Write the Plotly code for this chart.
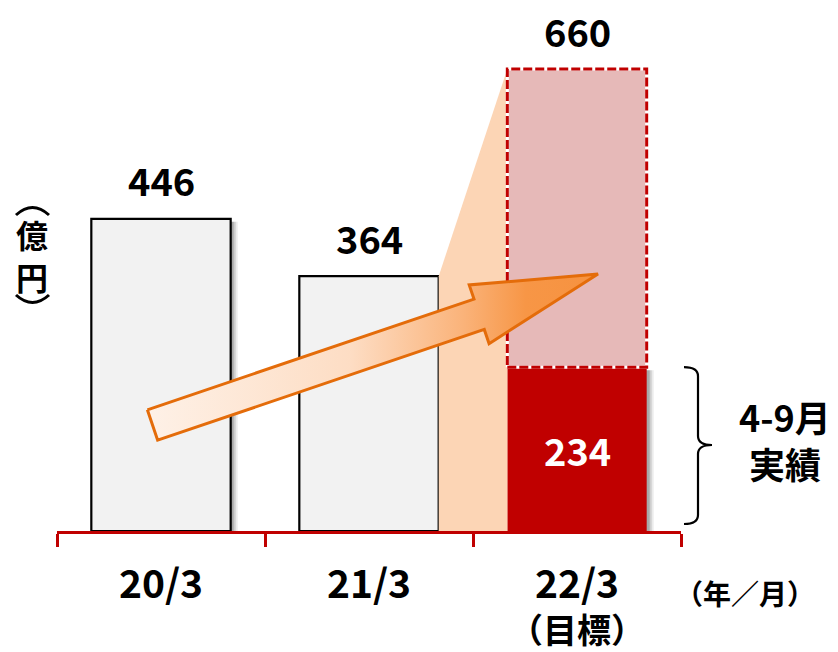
import plotly.graph_objects as go

# ---------------- data ----------------
categories = ["20/3", "21/3", "22/3"]
values = [446, 364, 660]          # 億円 (22/3 = 目標)
actual_first_half = 234            # 22/3 4-9月実績
value_labels = ["446", "364", "660"]
actual_label = "234"
target_note = "（目標）"
unit_x = "（年／月）"
unit_y = "億<br>円"
bracket_note = "4-9月<br>実績"

# ---------------- layout geometry ----------------
OFF = 8                      # default page body margin
PAGE_W, PAGE_H = 838, 652
W, H = PAGE_W - OFF, PAGE_H - OFF
PLOT_L, PLOT_T = 57, 13      # plot area position on the page
PW, PH = 624, 518
ML, MT = PLOT_L - OFF, PLOT_T - OFF
MR, MB = W - ML - PW, H - MT - PH
XR = (-0.5, 2.5)
YR = (0, 740)
BAR_W = 0.67

FONT = "Noto Sans CJK JP"
RED = "#C00000"
PINK = "#E6B9B8"
PEACH = "#FCD5B5"
GREY = "#F2F2F2"


def px_x(px):
    return XR[0] + (px - PLOT_L) / PW * (XR[1] - XR[0])


def px_y(py):
    return YR[0] + (PLOT_T + PH - py) / PH * (YR[1] - YR[0])


def dx(p):  # pixel width -> x units
    return p / PW * (XR[1] - XR[0])


def dy(p):  # pixel height -> y units
    return p / PH * (YR[1] - YR[0])


def paper_x(px):
    return (px - PLOT_L) / PW


def paper_y(py):
    return (PLOT_T + PH - py) / PH


idx = list(range(len(categories)))
solid_vals = [values[0], values[1], actual_first_half]
target_rest = values[2] - actual_first_half

fig = go.Figure()

# peach wedge from 21/3 bar top to 22/3 target top
wx = [1 + BAR_W / 2, 2 - BAR_W / 2, 2 - BAR_W / 2, 1 + BAR_W / 2]
wy = [values[1], values[2], 0, 0]
fig.add_trace(go.Scatter(x=wx, y=wy, fill="toself", fillcolor=PEACH,
                         mode="lines", line=dict(width=0), hoverinfo="skip",
                         showlegend=False))

# soft shadows at the right of the solid bars
for off, alpha in [(7, 0.08), (5, 0.12), (3, 0.18)]:
    fig.add_trace(go.Bar(x=idx, y=[v - dy(3) for v in solid_vals],
                         width=BAR_W, offset=-BAR_W / 2 + dx(off),
                         marker=dict(color=f"rgba(0,0,0,{alpha})", line=dict(width=0)),
                         hoverinfo="skip", showlegend=False))

# actual bars (20/3, 21/3)
fig.add_trace(go.Bar(x=idx[:2], y=values[:2], width=BAR_W,
                     marker=dict(color=GREY, line=dict(color="black", width=2.2)),
                     hoverinfo="skip", showlegend=False))
# 22/3 first half actual
fig.add_trace(go.Bar(x=[2], y=[actual_first_half], width=BAR_W,
                     marker=dict(color=RED, line=dict(width=0)),
                     hoverinfo="skip", showlegend=False))
# 22/3 remaining target
fig.add_trace(go.Bar(x=[2], y=[target_rest], base=[actual_first_half], width=BAR_W,
                     marker=dict(color=PINK, line=dict(width=0)),
                     hoverinfo="skip", showlegend=False))

# dashed border of the target part
rx = [2 - BAR_W / 2, 2 + BAR_W / 2, 2 + BAR_W / 2, 2 - BAR_W / 2, 2 - BAR_W / 2]
ry = [actual_first_half, actual_first_half, values[2], values[2], actual_first_half]
fig.add_trace(go.Scatter(x=rx, y=ry, mode="lines", line=dict(color="white", width=3),
                         hoverinfo="skip", showlegend=False))
fig.add_trace(go.Scatter(x=rx, y=ry, mode="lines",
                         line=dict(color=RED, width=3, dash="9px,3px"),
                         hoverinfo="skip", showlegend=False))

# growth arrow (block arrow), geometry in page pixels then mapped to data
tail = (152.5, 425.0)
tip = (598.0, 274.0)
shaft_hw, head_hw, head_len = 16.0, 31.0, 125.5
ux, uy = tip[0] - tail[0], tip[1] - tail[1]
L = (ux ** 2 + uy ** 2) ** 0.5
ux, uy = ux / L, uy / L
nx, ny = uy, -ux
base = (tip[0] - ux * head_len, tip[1] - uy * head_len)
pts = [
    (tail[0] + nx * shaft_hw, tail[1] + ny * shaft_hw),
    (base[0] + nx * shaft_hw, base[1] + ny * shaft_hw),
    (base[0] + nx * head_hw, base[1] + ny * head_hw),
    tip,
    (base[0] - nx * head_hw, base[1] - ny * head_hw),
    (base[0] - nx * shaft_hw, base[1] - ny * shaft_hw),
    (tail[0] - nx * shaft_hw, tail[1] - ny * shaft_hw),
]
pts.append(pts[0])
ax = [px_x(p[0]) for p in pts]
ay = [px_y(p[1]) for p in pts]
fig.add_trace(go.Scatter(
    x=ax, y=ay, mode="lines", fill="toself",
    fillgradient=dict(type="horizontal",
                      colorscale=[[0, "#FEF1E7"], [0.45, "#FDDDC4"], [0.7, "#FAB37A"],
                                  [0.84, "#F79646"], [1, "#F69240"]]),
    line=dict(color="#E46C0A", width=3), hoverinfo="skip", showlegend=False))

# invisible trace that carries the red baseline axis (x2)
fig.add_trace(go.Scatter(x=[XR[0], XR[1]], y=[0, 0], xaxis="x2", mode="lines",
                         line=dict(width=0), hoverinfo="skip", showlegend=False))

# ---------------- annotations ----------------
def bold(size, color="black"):
    return dict(family=FONT, size=size, color=color, weight="bold")


ann = []
for i, (v, t) in enumerate(zip(values, value_labels)):
    ann.append(dict(x=i, y=v, xref="x", yref="y", text=t, showarrow=False,
                    xanchor="center", yanchor="middle", yshift=39, font=bold(38)))
ann.append(dict(x=2, y=actual_first_half / 2, xref="x", yref="y", text=actual_label,
                showarrow=False, xanchor="center", font=bold(38, "white")))
# (目標)
ann.append(dict(x=2, y=paper_y(628), xref="x", yref="paper", text=target_note,
                showarrow=False, xanchor="center", yanchor="middle", font=bold(34)))
# (年/月)
ann.append(dict(x=paper_x(745), y=paper_y(593), xref="paper", yref="paper", text=unit_x,
                showarrow=False, xanchor="center", yanchor="middle", font=bold(28)))
# 4-9月 実績
ann.append(dict(x=paper_x(785), y=px_y(439), xref="paper", yref="y", text=bracket_note,
                showarrow=False, xanchor="center", yanchor="middle", font=bold(36)))
# (億円) vertical
ann.append(dict(x=paper_x(32), y=paper_y(255), xref="paper", yref="paper",
                text=unit_y, showarrow=False, xanchor="center", yanchor="middle",
                font=bold(32)))

# vertical parentheses around 億円 (arcs)
pl, pr = paper_x(16), paper_x(49)
pm = (pl + pr) / 2
top_end, top_ctrl = paper_y(215), paper_y(200)
bot_end, bot_ctrl = paper_y(295), paper_y(310)
shapes = [
    dict(type="path", xref="paper", yref="paper",
         path=f"M {pl},{top_end} Q {pm},{top_ctrl} {pr},{top_end}",
         line=dict(color="black", width=3)),
    dict(type="path", xref="paper", yref="paper",
         path=f"M {pl},{bot_end} Q {pm},{bot_ctrl} {pr},{bot_end}",
         line=dict(color="black", width=3)),
]

# bracket for 4-9月実績
y_top = actual_first_half
y_bot = px_y(524)
y_mid = px_y(445)
bx0, bx1, bx2 = paper_x(684), paper_x(698), paper_x(712)
c = dy(9)
path = (f"M {bx0},{y_top} Q {bx1},{y_top} {bx1},{y_top - c} "
        f"L {bx1},{y_mid + c} Q {bx1},{y_mid} {bx2},{y_mid} "
        f"Q {bx1},{y_mid} {bx1},{y_mid - c} "
        f"L {bx1},{y_bot + c} Q {bx1},{y_bot} {bx0},{y_bot}")
shapes.append(dict(type="path", xref="paper", yref="y", path=path,
                   line=dict(color="black", width=2.2)))

bounds = [i - 0.5 for i in idx] + [idx[-1] + 0.5]

fig.update_layout(
    width=W, height=H,
    margin=dict(l=ML, r=MR, t=MT, b=MB, pad=0),
    paper_bgcolor="white", plot_bgcolor="white",
    barmode="overlay", showlegend=False,
    font=dict(family=FONT, color="black"),
    annotations=ann, shapes=shapes,
    xaxis=dict(type="linear", range=list(XR), tickmode="array", tickvals=idx,
               ticktext=categories, showgrid=False, zeroline=False,
               showline=False, ticks="", ticklabelstandoff=27,
               tickfont=bold(39), fixedrange=True),
    xaxis2=dict(type="linear", range=list(XR), overlaying="x", side="bottom",
                anchor="y", tickmode="array", tickvals=bounds,
                ticktext=[""] * len(bounds), showticklabels=False,
                showgrid=False, zeroline=False,
                showline=True, linecolor=RED, linewidth=3,
                ticks="outside", ticklen=13, tickwidth=3, tickcolor=RED,
                fixedrange=True),
    yaxis=dict(range=list(YR), visible=False, fixedrange=True),
)

fig.write_html("out.html")
